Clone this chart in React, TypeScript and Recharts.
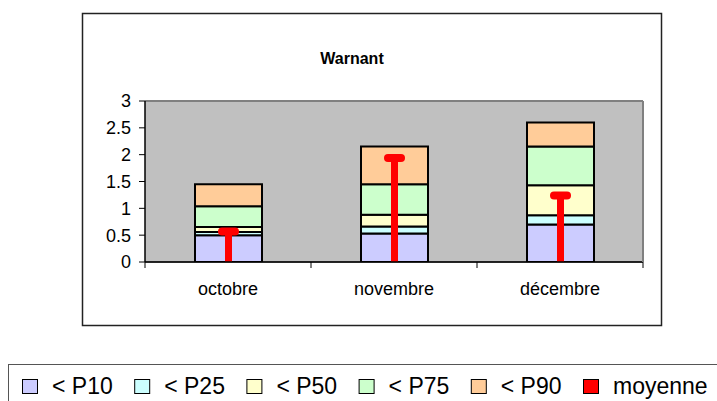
import React from 'react';
import { BarChart, Bar, XAxis, YAxis, CartesianGrid } from 'recharts';

const months = ['octobre', 'novembre', 'décembre'];
const p10 = [0.5, 0.53, 0.7];
const p25 = [0.56, 0.66, 0.87];
const p50 = [0.65, 0.88, 1.43];
const p75 = [1.04, 1.45, 2.15];
const p90 = [1.45, 2.15, 2.6];
const moyenne = [0.57, 1.94, 1.24];
const yTicks = [0, 0.5, 1, 1.5, 2, 2.5, 3];

const legendItems = [
  { label: '< P10', color: '#CCCCFF' },
  { label: '< P25', color: '#CCFFFF' },
  { label: '< P50', color: '#FFFFCC' },
  { label: '< P75', color: '#CCFFCC' },
  { label: '< P90', color: '#FFCC99' },
  { label: 'moyenne', color: '#FF0000' },
];

const r2 = (v: number) => Math.round(v * 100) / 100;

const data = months.map((m, i) => ({
  month: m,
  d10: p10[i],
  d25: r2(p25[i] - p10[i]),
  d50: r2(p50[i] - p25[i]),
  d75: r2(p75[i] - p50[i]),
  d90: r2(p90[i] - p75[i]),
  moy: moyenne[i],
}));

const FONT = '"Liberation Sans", Arial, sans-serif';

const MeanShape = (props: any) => {
  const { x, y, width, height } = props;
  if (x == null || y == null) return null;
  const cx = x + width / 2;
  return (
    <g>
      <rect x={cx - 3.5} y={y} width={7} height={height} fill="#FF0000" />
      <rect x={cx - 10.5} y={y - 4} width={21} height={8} rx={4} ry={4} fill="#FF0000" />
    </g>
  );
};

const XTick = (props: any) => {
  const { x, y, payload, index } = props;
  const half = payload && payload.offset ? payload.offset : 83;
  const axisY = y - 8;
  return (
    <g>
      {index === 0 && (
        <line x1={x - half} y1={axisY} x2={x - half} y2={axisY + 6} stroke="#000" strokeWidth={1} />
      )}
      <line x1={x + half} y1={axisY} x2={x + half} y2={axisY + 6} stroke="#000" strokeWidth={1} />
      <text x={x} y={axisY + 33} textAnchor="middle" fontSize={18} fontFamily={FONT} fill="#000">
        {payload.value}
      </text>
    </g>
  );
};

export default function App() {
  return (
    <div style={{ position: 'absolute', left: 0, top: 0, width: 717, height: 401, background: '#fff', overflow: 'hidden' }}>
      <svg width={717} height={401} style={{ position: 'absolute', left: 0, top: 0 }}>
        <rect x={82.5} y={13.5} width={579} height={312} fill="#fff" stroke="#222" strokeWidth={1.5} />
        <text x={352} y={64} textAnchor="middle" fontSize={16} fontWeight="bold" fontFamily={FONT} fill="#000">
          Warnant
        </text>
        <rect x={8.5} y={364.5} width={730} height={60} fill="#fff" stroke="#555" strokeWidth={1} />
        {legendItems.map((it, i) => {
          const lx = 22 + i * 112.2;
          return (
            <g key={it.label}>
              <rect x={lx + 0.5} y={379.5} width={15} height={14} fill={it.color} stroke="#000" strokeWidth={1} />
              <text x={lx + 30} y={394} fontSize={23} fontFamily={FONT} fill="#000">
                {it.label}
              </text>
            </g>
          );
        })}
      </svg>
      <BarChart
        width={717}
        height={401}
        data={data}
        margin={{ top: 100, right: 73, bottom: 109, left: 85 }}
        style={{ position: 'absolute', left: 0, top: 0 }}
      >
        <CartesianGrid vertical={false} fill="#C0C0C0" stroke="#333" strokeWidth={1} />
        <XAxis
          dataKey="month"
          xAxisId="bottom"
          height={30}
          tickSize={6}
          tickMargin={2}
          tickLine={false}
          axisLine={{ stroke: '#000', strokeWidth: 1.5 }}
          tick={<XTick />}
          interval={0}
        />
        <XAxis
          dataKey="month"
          xAxisId="top"
          orientation="top"
          height={1}
          tick={false}
          tickLine={false}
          axisLine={{ stroke: '#808080', strokeWidth: 2 }}
        />
        <YAxis
          yAxisId="left"
          domain={[0, 3]}
          ticks={yTicks}
          width={60}
          tickSize={6}
          tickMargin={8}
          axisLine={{ stroke: '#000', strokeWidth: 1.5 }}
          tickLine={{ stroke: '#000' }}
          tick={{ fontSize: 18, fontFamily: FONT, fill: '#000' }}
          allowDataOverflow
        />
        <YAxis
          yAxisId="right"
          orientation="right"
          domain={[0, 3]}
          width={1}
          tick={false}
          tickLine={false}
          axisLine={{ stroke: '#808080', strokeWidth: 2 }}
          allowDataOverflow
        />
        <Bar dataKey="d10" stackId="s" xAxisId="bottom" yAxisId="left" fill="#CCCCFF" stroke="#000" strokeWidth={2} barSize={67} isAnimationActive={false} />
        <Bar dataKey="d25" stackId="s" xAxisId="bottom" yAxisId="left" fill="#CCFFFF" stroke="#000" strokeWidth={2} barSize={67} isAnimationActive={false} />
        <Bar dataKey="d50" stackId="s" xAxisId="bottom" yAxisId="left" fill="#FFFFCC" stroke="#000" strokeWidth={2} barSize={67} isAnimationActive={false} />
        <Bar dataKey="d75" stackId="s" xAxisId="bottom" yAxisId="left" fill="#CCFFCC" stroke="#000" strokeWidth={2} barSize={67} isAnimationActive={false} />
        <Bar dataKey="d90" stackId="s" xAxisId="bottom" yAxisId="left" fill="#FFCC99" stroke="#000" strokeWidth={2} barSize={67} isAnimationActive={false} />
        <Bar dataKey="moy" xAxisId="top" yAxisId="right" fill="#FF0000" barSize={67} shape={<MeanShape />} isAnimationActive={false} />
      </BarChart>
    </div>
  );
}
